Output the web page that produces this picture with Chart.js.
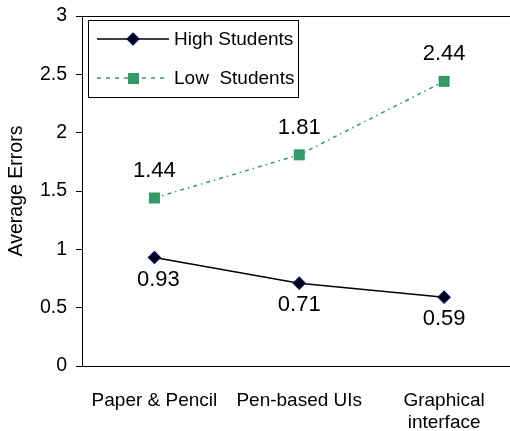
<!DOCTYPE html>
<html>
<head>
<meta charset="utf-8">
<script src="https://cdn.jsdelivr.net/npm/chart.js@4/dist/chart.umd.min.js"></script>
<style>
  html, body { margin: 0; padding: 0; background: #fff; }
  #wrap { width: 510px; height: 431px; }
</style>
</head>
<body>
<div id="wrap"><canvas id="c" width="510" height="431"></canvas></div>
<script>
// Conditions on the horizontal axis (multi-line labels)
const categories = [['Paper & Pencil'], ['Pen-based UIs'], ['Graphical', 'interface']];
// Average errors per group
const highStudents = [0.93, 0.71, 0.59];
const lowStudents = [1.44, 1.81, 2.44];
// Y-axis tick values
const yTicks = [0, 0.5, 1, 1.5, 2, 2.5, 3];
const seriesNames = ['High Students', 'Low  Students'];
const axisTitle = 'Average Errors';

const FONT = '"Liberation Sans", Arial, sans-serif';
const GREEN = '#339966';

const toPoints = vals => vals.map((v, i) => ({ x: i, y: v }));

// Value labels, top frame line, axis title and boxed legend
const decorations = {
  id: 'decorations',
  afterDatasetsDraw(chart) {
    const { ctx, chartArea, scales } = chart;
    ctx.save();
    // frame line along the top of the plot
    ctx.strokeStyle = '#000';
    ctx.lineWidth = 1;
    ctx.beginPath();
    ctx.moveTo(chartArea.left, Math.round(chartArea.top) + 0.5);
    ctx.lineTo(chartArea.right, Math.round(chartArea.top) + 0.5);
    ctx.stroke();

    // value labels
    ctx.fillStyle = '#000';
    ctx.font = '22px ' + FONT;
    ctx.textAlign = 'center';
    ctx.textBaseline = 'middle';
    lowStudents.forEach((v, i) => {
      const x = scales.x.getPixelForValue(i);
      const y = scales.y.getPixelForValue(v);
      ctx.fillText(v.toFixed(2), x, y - 27);
    });
    highStudents.forEach((v, i) => {
      const x = scales.x.getPixelForValue(i);
      const y = scales.y.getPixelForValue(v);
      ctx.fillText(v.toFixed(2), x + (i === 0 ? 4 : 0), y + 22);
    });

    // rotated axis title
    ctx.save();
    ctx.translate(17, (chartArea.top + chartArea.bottom) / 2);
    ctx.rotate(-Math.PI / 2);
    ctx.font = '19.5px ' + FONT;
    ctx.fillText(axisTitle, 0, 0);
    ctx.restore();

    // legend box
    const bx = 88, by = 20, bw = 210, bh = 77;
    ctx.fillStyle = '#fff';
    ctx.fillRect(bx, by, bw, bh);
    ctx.strokeStyle = '#000';
    ctx.lineWidth = 1;
    ctx.strokeRect(bx + 0.5, by + 0.5, bw, bh);

    const rows = [39, 78];
    // High Students row
    ctx.strokeStyle = '#000';
    ctx.lineWidth = 1.5;
    ctx.setLineDash([]);
    ctx.beginPath();
    ctx.moveTo(97, rows[0]);
    ctx.lineTo(169, rows[0]);
    ctx.stroke();
    ctx.beginPath();
    ctx.moveTo(133, rows[0] - 6);
    ctx.lineTo(139, rows[0]);
    ctx.lineTo(133, rows[0] + 6);
    ctx.lineTo(127, rows[0]);
    ctx.closePath();
    ctx.fillStyle = '#000';
    ctx.fill();
    ctx.strokeStyle = '#000080';
    ctx.lineWidth = 1.2;
    ctx.stroke();

    // Low Students row
    ctx.strokeStyle = GREEN;
    ctx.lineWidth = 1.5;
    ctx.setLineDash([4, 5]);
    ctx.beginPath();
    ctx.moveTo(97, rows[1]);
    ctx.lineTo(169, rows[1]);
    ctx.stroke();
    ctx.setLineDash([]);
    ctx.fillStyle = GREEN;
    ctx.fillRect(128, rows[1] - 5, 11, 11);

    ctx.fillStyle = '#000';
    ctx.font = '19px ' + FONT;
    ctx.textAlign = 'left';
    ctx.fillText(seriesNames[0], 174, rows[0] + 1);
    ctx.fillText(seriesNames[1], 174, rows[1] + 1);
    ctx.restore();
  }
};

new Chart(document.getElementById('c'), {
  type: 'line',
  data: {
    datasets: [
      {
        label: seriesNames[0],
        data: toPoints(highStudents),
        borderColor: '#000',
        borderWidth: 1.5,
        pointStyle: 'rectRot',
        pointRadius: 6,
        pointBackgroundColor: '#000',
        pointBorderColor: '#000080',
        pointBorderWidth: 1.2,
        tension: 0
      },
      {
        label: seriesNames[1],
        data: toPoints(lowStudents),
        borderColor: GREEN,
        borderWidth: 1.5,
        borderDash: [4, 4, 1.5, 4],
        pointStyle: 'rect',
        pointRadius: 7.8,
        pointBackgroundColor: GREEN,
        pointBorderColor: GREEN,
        pointBorderWidth: 0,
        tension: 0
      }
    ]
  },
  options: {
    responsive: false,
    animation: false,
    events: [],
    layout: { autoPadding: false, padding: { top: 16, right: 0, left: 0, bottom: 0 } },
    plugins: { legend: { display: false }, tooltip: { enabled: false } },
    scales: {
      x: {
        type: 'linear',
        min: -0.5,
        max: 2.455,
        afterBuildTicks: s => { s.ticks = categories.map((c, i) => ({ value: i })); },
        afterFit: s => { s.height = 65; s.paddingLeft = 0; s.paddingRight = 0; },
        grid: { display: false },
        border: { display: true, color: '#000', width: 1 },
        ticks: {
          autoSkip: false,
          maxRotation: 0,
          padding: 15,
          color: '#000',
          font: { family: FONT, size: 19 },
          callback: v => categories[v]
        }
      },
      y: {
        min: 0,
        max: 3,
        afterBuildTicks: s => { s.ticks = yTicks.map(v => ({ value: v })); },
        afterFit: s => { s.width = 82; s.paddingTop = 0; s.paddingBottom = 0; },
        grid: { display: true, drawOnChartArea: false, tickLength: 6, color: '#000' },
        border: { display: true, color: '#000', width: 1 },
        ticks: {
          padding: 9,
          color: '#000',
          font: { family: FONT, size: 19.5 },
          callback: v => String(v)
        }
      }
    }
  },
  plugins: [decorations]
});
</script>
</body>
</html>
